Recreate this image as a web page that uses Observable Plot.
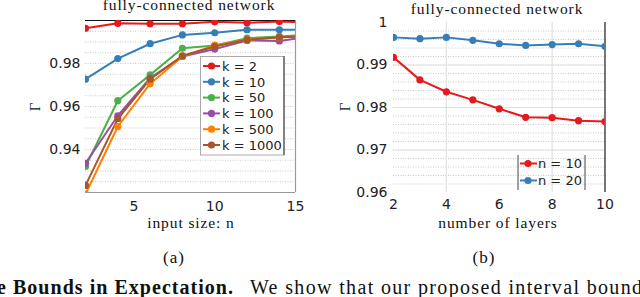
<!DOCTYPE html>
<html><head><meta charset="utf-8">
<script src="https://cdn.jsdelivr.net/npm/d3@7"></script>
<script src="https://cdn.jsdelivr.net/npm/@observablehq/plot@0.6"></script>
<style>
html,body{margin:0;padding:0;background:#fff;}
#root{position:relative;width:640px;height:297px;overflow:hidden;background:#fff;}
#root svg{position:absolute;top:0;}
</style></head>
<body><div id="root"></div>
<script>
// ---- data: chart (a) ----
const inputSizes = [2, 4, 6, 8, 10, 12, 14, 16];
const kNames = ["k = 2", "k = 10", "k = 50", "k = 100", "k = 500", "k = 1000"];
const kColors = ["#e41a1c", "#377eb8", "#4daf4a", "#984ea3", "#ff7f00", "#a65628"];
const gammaK2    = [0.9964, 0.9987, 0.9985, 0.9985, 0.9994, 0.9989, 0.9995, 0.9991];
const gammaK10   = [0.9727, 0.9823, 0.9892, 0.9933, 0.9943, 0.9957, 0.9957, 0.9957];
const gammaK50   = [0.9321, 0.9627, 0.9747, 0.9871, 0.9884, 0.9918, 0.9926, 0.9934];
const gammaK100  = [0.9336, 0.9557, 0.9732, 0.9833, 0.9867, 0.9907, 0.9905, 0.9925];
const gammaK500  = [0.9192, 0.9507, 0.9706, 0.9833, 0.9884, 0.9910, 0.9921, 0.9930];
const gammaK1000 = [0.9233, 0.9543, 0.9727, 0.9836, 0.9879, 0.9910, 0.9922, 0.9928];
const aTicksX = [5, 10, 15];
const aTicksY = [0.94, 0.96, 0.98];

// ---- data: chart (b) ----
const layers = [2, 3, 4, 5, 6, 7, 8, 9, 10];
const nNames = ["n = 10", "n = 20"];
const nColors = ["#e41a1c", "#377eb8"];
const gammaN10 = [0.9918, 0.9865, 0.9837, 0.9818, 0.9797, 0.9777, 0.9776, 0.9769, 0.9767];
const gammaN20 = [0.9965, 0.9962, 0.9965, 0.9958, 0.9950, 0.9946, 0.9948, 0.9950, 0.9944];
const bTicksX = [2, 4, 6, 8, 10];
const bTicksY = [0.96, 0.97, 0.98, 0.99, 1];

const titleText = "fully-connected network";
const aXLabel = "input size: n";
const bXLabel = "number of layers";
const yLabel = "Γ";
const captionBold = "e Bounds in Expectation.";
const captionRest = "We show that our proposed interval bound";

const serif = "'Liberation Serif', 'Times New Roman', serif";
const sans = "'DejaVu Sans', sans-serif";

const aSeries = [gammaK2, gammaK10, gammaK50, gammaK100, gammaK500, gammaK1000];
const aData = kNames.flatMap((k, i) => inputSizes.map((n, j) => ({n, g: aSeries[i][j], k})));
const bSeries = [gammaN10, gammaN20];
const bData = nNames.flatMap((s, i) => layers.map((l, j) => ({l, g: bSeries[i][j], s})));

const root = document.getElementById("root");

const chartA = Plot.plot({
  width: 320, height: 240,
  marginLeft: 85, marginRight: 25, marginTop: 20, marginBottom: 48,
  style: {fontFamily: sans, fontSize: "14px", color: "#222", background: "transparent"},
  x: {domain: [2, 15]},
  y: {domain: [0.92, 1]},
  color: {domain: kNames, range: kColors},
  marks: [
    Plot.ruleY(d3.range(0.925, 0.9999, 0.005), {stroke: "#bbb", strokeDasharray: "1,1.5", strokeWidth: 0.8}),
    Plot.ruleY([1], {stroke: "#111", strokeWidth: 1}),
    Plot.ruleY([0.92], {stroke: "#999", strokeWidth: 1.2}),
    Plot.ruleX([15], {stroke: "#999", strokeWidth: 1.2}),
    Plot.axisX({ticks: aTicksX, tickSize: 0, tickPadding: 9, label: null, fontSize: 14}),
    Plot.axisY({ticks: aTicksY, tickSize: 0, tickPadding: 5, label: null, fontSize: 14, tickFormat: d3.format(".2f")}),
    Plot.line(aData, {x: "n", y: "g", z: "k", stroke: "k", strokeWidth: 2, clip: true}),
    Plot.dot(aData, {x: "n", y: "g", fill: "k", r: 3.6, clip: true})
  ]
});
chartA.style.left = "0px";
root.appendChild(chartA);

const chartB = Plot.plot({
  width: 320, height: 240,
  marginLeft: 73, marginRight: 35.5, marginTop: 22, marginBottom: 48,
  style: {fontFamily: sans, fontSize: "14px", color: "#222", background: "transparent"},
  x: {domain: [2, 10]},
  y: {domain: [0.96, 1]},
  color: {domain: nNames, range: nColors},
  marks: [
    Plot.ruleY(d3.range(0.962, 0.9999, 0.002), {stroke: "#bbb", strokeDasharray: "1,1.5", strokeWidth: 0.8}),
    Plot.ruleY([0.97, 0.98, 0.99], {stroke: "#ddd", strokeWidth: 0.8}),
    Plot.ruleX([4, 8], {stroke: "#ddd", strokeWidth: 1}),
    Plot.ruleX([10], {stroke: "#555", strokeWidth: 1.6}),
    Plot.axisX({ticks: bTicksX, tickSize: 0, tickPadding: 7, label: null, fontSize: 14}),
    Plot.axisY({ticks: bTicksY, tickSize: 0, tickPadding: 6, label: null, fontSize: 14, tickFormat: d => d === 1 ? "1" : d3.format(".2f")(d)}),
    Plot.line(bData, {x: "l", y: "g", z: "s", stroke: "s", strokeWidth: 2, clip: true}),
    Plot.dot(bData, {x: "l", y: "g", fill: "s", r: 3.6, clip: true})
  ]
});
chartB.style.left = "320px";
root.appendChild(chartB);

// ---- overlay: titles, labels, legends, captions ----
const ov = d3.select(root).append("svg")
  .attr("width", 640).attr("height", 297)
  .style("left", "0px").style("top", "0px");

function stext(x, y, t, opts = {}) {
  return ov.append("text").attr("x", x).attr("y", y).text(t)
    .attr("font-family", opts.family || serif)
    .attr("font-size", opts.size || 15.5)
    .attr("letter-spacing", opts.ls == null ? 0.9 : opts.ls)
    .attr("font-weight", opts.weight || "normal")
    .attr("text-anchor", opts.anchor || "middle")
    .attr("fill", opts.fill || "#111");
}
stext(189, 10, titleText);
stext(497, 14, titleText);
stext(191, 228, aXLabel);
stext(498, 228, bXLabel);
stext(174, 263, "(a)", {size: 17, ls: 1});
stext(484, 263, "(b)", {size: 17, ls: 1});
stext(0, 0, yLabel, {size: 15, ls: 0}).attr("transform", "translate(40,107) rotate(-90)");
stext(0, 0, yLabel, {size: 15, ls: 0}).attr("transform", "translate(350,107) rotate(-90)");

// bottom cut-off caption (as in the reference, it runs off the bottom edge)
const cap = ov.append("text").attr("y", 294).attr("font-family", serif).attr("font-size", 20).attr("fill", "#111");
cap.append("tspan").attr("x", -3).attr("font-weight", "bold")
  .attr("textLength", 236).attr("lengthAdjust", "spacing").text(captionBold);
cap.append("tspan").attr("x", 250).attr("font-weight", "normal")
  .attr("textLength", 392).attr("lengthAdjust", "spacing").text(captionRest);

// legend (a)
ov.append("rect").attr("x", 200.5).attr("y", 56.5).attr("width", 83.5).attr("height", 98.5)
  .attr("fill", "#fff").attr("stroke", "#aaa").attr("stroke-width", 1);
ov.append("line").attr("x1", 284).attr("x2", 284).attr("y1", 56).attr("y2", 155).attr("stroke", "#666").attr("stroke-width", 1.5);
kNames.forEach((k, i) => {
  const y = 66 + i * 15.8;
  ov.append("line").attr("x1", 203).attr("x2", 220).attr("y1", y).attr("y2", y).attr("stroke", kColors[i]).attr("stroke-width", 2);
  ov.append("circle").attr("cx", 211.5).attr("cy", y).attr("r", 3.6).attr("fill", kColors[i]);
  stext(222, y + 4.8, k, {family: sans, size: 13, ls: 0, anchor: "start", fill: "#222"});
});

// legend (b)
ov.append("line").attr("x1", 518).attr("x2", 518).attr("y1", 155).attr("y2", 190).attr("stroke", "#444").attr("stroke-width", 1);
ov.append("line").attr("x1", 585).attr("x2", 585).attr("y1", 155).attr("y2", 190).attr("stroke", "#444").attr("stroke-width", 1);
nNames.forEach((s, i) => {
  const y = 163.5 + i * 17;
  ov.append("line").attr("x1", 520).attr("x2", 537).attr("y1", y).attr("y2", y).attr("stroke", nColors[i]).attr("stroke-width", 2);
  ov.append("circle").attr("cx", 528).attr("cy", y).attr("r", 3.6).attr("fill", nColors[i]);
  stext(538, y + 4.8, s, {family: sans, size: 13, ls: 0, anchor: "start", fill: "#222"});
});
</script></body></html>
